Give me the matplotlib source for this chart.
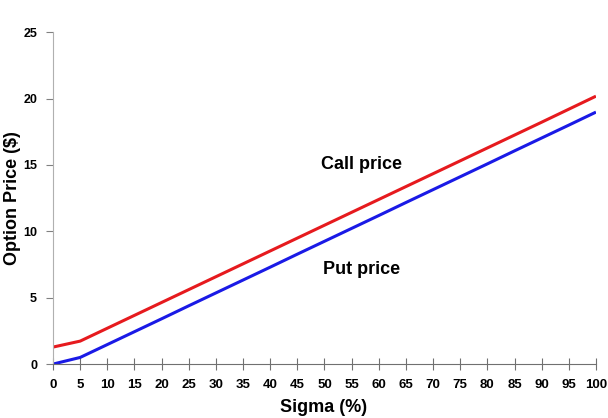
import matplotlib
matplotlib.use("Agg")
import matplotlib.pyplot as plt

sigma = [0, 5, 10, 15, 20, 25, 30, 35, 40, 45, 50, 55, 60, 65, 70, 75, 80, 85, 90, 95, 100]
call_price = [1.28, 1.73, 2.70, 3.67, 4.64, 5.61, 6.58, 7.55, 8.52, 9.49, 10.46,
              11.43, 12.40, 13.37, 14.34, 15.31, 16.28, 17.25, 18.22, 19.20, 20.18]
put_price = [0.00, 0.50, 1.47, 2.44, 3.41, 4.39, 5.36, 6.33, 7.30, 8.28, 9.25,
             10.22, 11.19, 12.17, 13.14, 14.11, 15.08, 16.06, 17.03, 18.00, 18.98]
y_ticks = [0, 5, 10, 15, 20, 25]

plt.rcParams["font.family"] = ["Liberation Sans", "DejaVu Sans"]
plt.rcParams["font.weight"] = "bold"

fig = plt.figure(figsize=(6.08, 4.18), dpi=100)
ax = fig.add_axes([0.0872, 0.129, 0.893, 0.794])

ax.plot(sigma, call_price, color="#e61a1e", linewidth=2.2, solid_capstyle="butt")
ax.plot(sigma, put_price, color="#1a1ae6", linewidth=2.2, solid_capstyle="butt")

ax.text(56.9, 15.0, "Call price", ha="center", va="center", fontsize=13, fontweight="bold")
ax.text(56.9, 7.15, "Put price", ha="center", va="center", fontsize=13, fontweight="bold")

ax.set_xlim(0, 100)
ax.set_ylim(0, 25)
ax.set_xticks(sigma)
ax.set_yticks(y_ticks)

ax.spines["top"].set_visible(False)
ax.spines["right"].set_visible(False)
ax.spines["left"].set_color("#b0b0b0")
ax.spines["bottom"].set_color("#707070")
ax.tick_params(axis="x", direction="inout", length=8, color="#707070", labelsize=9.5, pad=7)
ax.tick_params(axis="y", direction="out", length=5, color="#808080", labelsize=9, pad=6.5)
for lab in ax.get_xticklabels() + ax.get_yticklabels():
    lab.set_fontweight("bold")

# axis titles placed in figure coords
fig.text(324 / 608, 1 - 408 / 418, "Sigma (%)", ha="center", va="center",
         fontsize=13, fontweight="bold")
fig.text(13 / 608, 1 - 198 / 418, "Option Price ($)", ha="center", va="center",
         rotation=90, fontsize=13, fontweight="bold")

# chart title sits mostly above the top edge, as in the source image
fig.text(0.49, 1.0 + 3.5 / 418, "Change in the Option Prices vs. Changing Sigma", ha="center",
         va="baseline", fontsize=13, fontweight="bold")

fig.savefig("out.png", dpi=100)
